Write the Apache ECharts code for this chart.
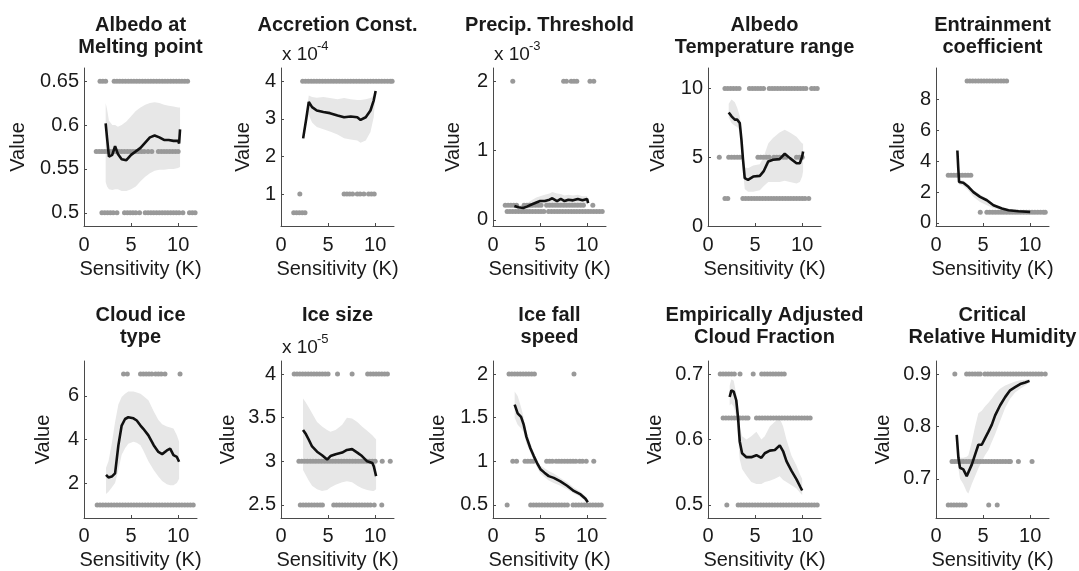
<!DOCTYPE html>
<html><head><meta charset="utf-8">
<script src="https://cdn.jsdelivr.net/npm/echarts@6/dist/echarts.min.js"></script>
<style>html,body{margin:0;padding:0;background:#fff;}#c{width:1079px;height:571px;}</style>
</head><body><div id="c"></div>
<script>
// ---------------- DATA ----------------
const titles = ['Albedo at\nMelting point', 'Accretion Const.', 'Precip. Threshold', 'Albedo\nTemperature range', 'Entrainment\ncoefficient',
  'Cloud ice\ntype', 'Ice size', 'Ice fall\nspeed', 'Empirically Adjusted\nCloud Fraction', 'Critical\nRelative Humidity'];
const exponents = [null, '-4', '-3', null, null, null, '-5', null, null, null];
const xTicks = [0, 5, 10];
const yTicks = [[0.5, 0.55, 0.6, 0.65], [1, 2, 3, 4], [0, 1, 2], [0, 5, 10], [0, 2, 4, 6, 8],
  [2, 4, 6], [2.5, 3, 3.5, 4], [0.5, 1, 1.5, 2], [0.5, 0.6, 0.7], [0.7, 0.8, 0.9]];
const yLimits = [[0.485, 0.665], [0.15, 4.35], [-0.09, 2.19], [0, 11.5], [-0.2, 10.05],
  [0.4, 7.6], [2.35, 4.15], [0.35, 2.15], [0.48, 0.72], [0.625, 0.925]];

// Panel 1: Albedo at melting point
const p1X = [2.3, 2.45, 2.65, 3.0, 3.3, 3.6, 4.0, 4.5, 5.0, 5.5, 6.0, 6.5, 7.0, 7.5, 8.0, 8.5, 9.0, 9.5, 10.0, 10.1, 10.2];
const p1Mean = [0.602, 0.585, 0.564, 0.566, 0.576, 0.567, 0.561, 0.560, 0.566, 0.570, 0.574, 0.580, 0.586, 0.588, 0.586, 0.583, 0.583, 0.582, 0.582, 0.579, 0.595];
const p1Hi = [0.625, 0.618, 0.605, 0.600, 0.600, 0.598, 0.600, 0.604, 0.610, 0.616, 0.620, 0.623, 0.625, 0.626, 0.625, 0.623, 0.622, 0.621, 0.620, 0.620, 0.620];
const p1Lo = [0.535, 0.530, 0.527, 0.526, 0.527, 0.527, 0.525, 0.525, 0.527, 0.530, 0.536, 0.541, 0.545, 0.548, 0.549, 0.549, 0.550, 0.550, 0.551, 0.552, 0.552];
const p1Lvl = [0.65, 0.57, 0.5];
const p1DotX = [
  [1.7,2.0,2.3,3.2,3.5,3.8,4.1,4.4,4.7,5.0,5.3,5.6,5.9,6.2,6.5,6.8,7.1,7.4,7.7,8.0,8.3,8.6,8.9,9.2,9.5,9.8,10.1,10.4,10.7,11.0],
  [1.3,1.6,1.9,2.2,2.5,2.8,3.1,3.4,3.7,4.0,4.3,4.6,4.9,5.2,5.5,5.8,6.1,6.4,6.8,7.2,7.9,8.2,8.5,8.8,9.1,9.4,9.7,10.0],
  [1.9,2.2,2.5,2.8,3.1,3.5,4.3,4.6,4.9,5.2,5.5,5.9,6.5,6.8,7.1,7.4,7.7,8.0,8.3,8.6,8.9,9.2,9.5,9.8,10.1,10.5,11.2,11.5,11.8]];

// Panel 2: Accretion const (x 1e-4)
const p2X = [2.35, 2.65, 2.95, 3.3, 3.8, 4.5, 5.2, 6.0, 6.7, 7.4, 8.1, 8.45, 9.0, 9.5, 9.85, 10.05];
const p2Mean = [2.48, 2.95, 3.45, 3.31, 3.22, 3.18, 3.15, 3.09, 3.04, 3.06, 3.04, 2.97, 3.04, 3.22, 3.49, 3.74];
const p2Hi = [2.55, 3.1, 3.62, 3.58, 3.56, 3.58, 3.55, 3.52, 3.55, 3.52, 3.5, 3.5, 3.52, 3.55, 3.62, 3.78];
const p2Lo = [2.42, 2.8, 3.1, 2.9, 2.78, 2.72, 2.66, 2.58, 2.48, 2.45, 2.42, 2.36, 2.42, 2.65, 3.05, 3.7];
const p2Lvl = [4, 1, 0.5];
const p2DotX = [
  [2.3,2.6,2.9,3.2,3.5,3.8,4.1,4.4,4.7,5.0,5.3,5.6,5.9,6.2,6.5,6.8,7.1,7.4,7.7,8.0,8.3,8.6,8.9,9.2,9.5,9.8,10.1,10.4,10.7,11.0,11.3,11.6,11.8],
  [2.0,6.7,7.0,7.3,7.6,8.1,8.4,8.8,9.3,9.6,9.9],
  [1.35,1.65,1.95,2.25,2.55]];

// Panel 3: Precip threshold (x 1e-3)
const p3X = [2.27, 2.7, 3.2, 3.6, 4.1, 4.6, 5.0, 5.5, 6.0, 6.3, 6.8, 7.2, 7.6, 8.0, 8.5, 9.0, 9.5, 10.0, 10.1];
const p3Mean = [0.20, 0.18, 0.17, 0.19, 0.22, 0.25, 0.27, 0.27, 0.29, 0.31, 0.27, 0.30, 0.27, 0.29, 0.28, 0.30, 0.28, 0.30, 0.24];
const p3Hi = [0.23, 0.22, 0.21, 0.24, 0.28, 0.32, 0.34, 0.36, 0.38, 0.40, 0.38, 0.37, 0.35, 0.36, 0.35, 0.36, 0.34, 0.34, 0.30];
const p3Lo = [0.17, 0.15, 0.14, 0.15, 0.17, 0.19, 0.21, 0.21, 0.22, 0.23, 0.21, 0.23, 0.21, 0.22, 0.22, 0.23, 0.22, 0.24, 0.20];
const p3Lvl = [2, 0.21, 0.12];
const p3DotX = [
  [2.1,7.5,7.8,8.3,8.6,8.9,10.3,10.7],
  [1.3,1.6,1.9,2.2,2.5,3.3,3.6,3.9,4.2,4.5,4.8,5.1,5.7,6.0,6.3,6.6,6.9,7.2,7.5,7.8,8.1,8.4,8.7,9.0,9.3,9.6,10.6],
  [1.5,1.8,2.1,2.4,2.7,3.0,3.3,3.6,3.9,4.2,4.5,4.8,5.1,5.4,5.9,6.2,6.5,6.8,7.1,7.4,7.7,8.0,8.3,8.6,8.9,9.2,9.5,9.8,10.1,10.4,10.7,11.0,11.3,11.6]];

// Panel 4: Albedo temperature range
const p4X = [2.2, 2.5, 2.85, 3.1, 3.37, 3.55, 3.72, 3.9, 4.25, 4.8, 5.5, 5.9, 6.4, 6.9, 7.6, 8.15, 8.7, 9.4, 9.75, 10.0, 10.1];
const p4Mean = [8.27, 7.98, 7.74, 7.74, 7.5, 6.28, 4.82, 3.48, 3.36, 3.6, 3.65, 3.97, 4.7, 4.82, 4.87, 5.26, 4.94, 4.57, 4.57, 5.06, 5.43];
const p4Hi = [8.9, 9.2, 9.0, 8.6, 8.0, 7.0, 5.6, 4.3, 4.2, 4.4, 4.5, 5.0, 6.0, 6.4, 6.8, 7.0, 6.8, 6.5, 6.2, 6.0, 6.0];
const p4Lo = [7.9, 7.5, 7.3, 7.2, 6.9, 5.6, 4.0, 2.7, 2.5, 2.5, 2.6, 2.9, 3.2, 3.2, 3.2, 3.3, 3.2, 3.1, 3.2, 3.6, 4.0];
const p4Lvl = [10, 5, 2];
const p4DotX = [
  [1.8,2.1,2.4,2.7,3.0,3.3,4.4,4.7,5.0,5.3,5.6,5.9,6.5,6.8,7.1,7.4,7.7,8.0,8.3,8.6,8.9,9.2,9.5,9.8,10.1,10.4,11.0,11.3,11.6],
  [1.2,2.2,2.5,2.8,3.1,3.4,5.3,5.6,5.9,6.2,6.5,7.0,7.3,7.6,8.0,8.3,9.4,9.7,10.0],
  [1.8,2.1,3.7,4.0,4.3,4.6,4.9,5.2,5.5,5.8,6.1,6.4,6.7,7.0,7.3,7.6,7.9,8.2,8.5,8.8,9.1,9.4,9.7,10.0,10.3,10.7]];

// Panel 5: Entrainment coefficient
const p5X = [2.27, 2.36, 2.45, 2.9, 3.44, 3.97, 4.68, 5.4, 6.1, 7.0, 7.7, 8.76, 10.0];
const p5Mean = [4.7, 3.6, 2.66, 2.6, 2.34, 2.0, 1.69, 1.47, 1.15, 0.93, 0.82, 0.76, 0.71];
const p5Hi = [4.8, 3.7, 2.8, 2.75, 2.5, 2.15, 1.85, 1.6, 1.25, 1.0, 0.88, 0.8, 0.75];
const p5Lo = [4.6, 3.5, 2.5, 2.4, 2.1, 1.7, 1.35, 1.15, 0.95, 0.82, 0.74, 0.7, 0.67];
const p5Lvl = [9.2, 3.1, 0.7];
const p5DotX = [
  [3.3,3.6,3.9,4.2,4.5,4.8,5.1,5.4,5.7,6.0,6.3,6.6,6.9,7.2,7.5],
  [1.3,1.6,1.9,2.2,2.5,2.8,3.1,3.4,3.7],
  [4.7,5.4,5.7,6.0,6.3,6.6,6.9,7.2,7.5,7.8,8.1,8.4,8.7,9.0,9.3,9.6,9.9,10.2,10.5,10.8,11.1,11.4,11.6]];

// Panel 6: Cloud ice type
const p6X = [2.34, 2.6, 2.95, 3.3, 3.65, 4.0, 4.36, 4.7, 5.25, 5.6, 6.0, 6.3, 6.84, 7.4, 7.9, 8.3, 8.8, 9.15, 9.5, 9.86, 10.1];
const p6Mean = [2.38, 2.26, 2.3, 2.45, 3.73, 4.64, 4.94, 5.02, 4.97, 4.87, 4.64, 4.49, 4.19, 3.74, 3.43, 3.33, 3.5, 3.58, 3.28, 3.2, 2.98];
const p6Hi = [2.7, 3.0, 3.8, 4.8, 5.6, 5.95, 6.1, 6.2, 6.2, 6.15, 6.1, 6.0, 5.8, 5.3, 4.9, 4.7, 4.6, 4.55, 4.5, 4.2, 3.9];
const p6Lo = [1.5, 1.6, 1.8, 2.0, 2.6, 3.3, 3.6, 3.8, 3.9, 3.85, 3.74, 3.5, 3.0, 2.6, 2.3, 2.1, 1.95, 1.9, 1.9, 2.0, 2.2];
const p6Lvl = [7, 1];
const p6DotX = [
  [4.2,4.6,6.0,6.3,6.6,6.9,7.2,7.6,7.9,8.2,8.6,10.2],
  [1.4,1.7,2.0,2.3,2.6,2.9,3.2,3.5,3.8,4.1,4.4,4.7,5.0,5.3,5.6,5.9,6.2,6.5,6.8,7.1,7.4,7.7,8.0,8.3,8.6,8.9,9.2,9.5,9.8,10.1,10.4,10.7,11.0,11.3,11.6]];

// Panel 7: Ice size (x 1e-5)
const p7X = [2.34, 2.6, 2.94, 3.3, 3.83, 4.36, 4.9, 5.25, 5.8, 6.5, 7.0, 7.55, 8.1, 8.6, 9.15, 9.7, 9.86, 10.1];
const p7Mean = [3.36, 3.32, 3.25, 3.17, 3.11, 3.07, 3.02, 3.06, 3.08, 3.1, 3.13, 3.14, 3.1, 3.06, 3.0, 2.98, 2.94, 2.83];
const p7Hi = [3.72, 3.68, 3.62, 3.55, 3.45, 3.4, 3.36, 3.34, 3.36, 3.42, 3.5, 3.49, 3.45, 3.4, 3.35, 3.3, 3.28, 3.25];
const p7Lo = [2.9, 2.85, 2.78, 2.72, 2.68, 2.66, 2.67, 2.7, 2.73, 2.76, 2.77, 2.76, 2.72, 2.69, 2.67, 2.66, 2.66, 2.68];
const p7Lvl = [4, 3, 2.5];
const p7DotX = [
  [1.4,1.7,2.0,2.3,2.6,2.9,3.2,3.5,3.8,4.1,4.4,4.7,5.0,6.0,7.55,9.2,9.5,9.8,10.1,10.4,10.7,11.0,11.3],
  [1.9,2.2,2.5,2.8,3.1,3.4,3.7,4.0,4.3,4.6,4.9,5.2,5.5,5.8,6.1,6.4,6.7,7.0,7.3,7.6,7.9,8.2,8.5,8.8,9.1,9.4,9.7,10.0,10.75,11.6],
  [2.05,2.35,2.65,2.95,3.25,3.55,3.85,4.15,4.4,5.6,5.9,6.2,6.5,6.8,7.1,7.4,7.7,8.0,8.3,8.6,8.9,9.2,9.5,9.9,10.7]];

// Panel 8: Ice fall speed
const p8X = [2.3, 2.62, 2.98, 3.26, 3.55, 3.97, 4.33, 4.68, 5.04, 5.46, 5.92, 6.45, 7.16, 7.87, 8.58, 9.3, 9.82, 10.07];
const p8Mean = [1.65, 1.55, 1.51, 1.42, 1.28, 1.15, 1.06, 0.98, 0.91, 0.87, 0.83, 0.81, 0.77, 0.72, 0.66, 0.62, 0.57, 0.53];
const p8Hi = [1.8, 1.75, 1.62, 1.5, 1.35, 1.2, 1.1, 1.02, 0.95, 0.92, 0.89, 0.86, 0.81, 0.76, 0.7, 0.65, 0.6, 0.56];
const p8Lo = [1.5, 1.42, 1.38, 1.33, 1.2, 1.1, 1.01, 0.93, 0.86, 0.82, 0.78, 0.75, 0.72, 0.68, 0.63, 0.59, 0.54, 0.51];
const p8Lvl = [2, 1, 0.5];
const p8DotX = [
  [1.7,2.0,2.3,2.6,2.9,3.2,3.5,3.8,4.1,4.4,8.6],
  [2.1,2.5,3.4,3.7,4.0,4.3,5.7,6.0,6.3,6.7,7.0,7.3,7.6,7.9,8.2,8.5,8.8,9.2,9.5,9.9,10.7],
  [1.5,4.0,4.3,4.6,4.9,5.2,5.5,5.8,6.1,6.4,6.7,7.0,7.3,7.6,7.9,8.5,8.8,9.1,9.4,9.7,10.0,10.3,10.6,10.9,11.2,11.5]];

// Panel 9: Empirically adjusted cloud fraction
const p9X = [2.3, 2.48, 2.73, 3.0, 3.2, 3.37, 3.62, 4.08, 4.6, 5.14, 5.67, 6.03, 6.56, 7.1, 7.62, 7.98, 8.33, 8.87, 9.4, 9.82, 10.0];
const p9Mean = [0.665, 0.675, 0.673, 0.66, 0.632, 0.597, 0.579, 0.573, 0.573, 0.576, 0.572, 0.579, 0.583, 0.584, 0.591, 0.582, 0.567, 0.552, 0.539, 0.527, 0.522];
const p9Hi = [0.682, 0.692, 0.690, 0.670, 0.650, 0.620, 0.605, 0.600, 0.605, 0.612, 0.600, 0.605, 0.620, 0.627, 0.632, 0.620, 0.600, 0.575, 0.560, 0.545, 0.540];
const p9Lo = [0.652, 0.655, 0.650, 0.635, 0.600, 0.570, 0.555, 0.545, 0.535, 0.532, 0.532, 0.535, 0.537, 0.540, 0.544, 0.538, 0.535, 0.530, 0.525, 0.518, 0.515];
const p9Lvl = [0.7, 0.633, 0.5];
const p9DotX = [
  [1.3,1.6,1.9,2.2,2.5,2.8,3.4,4.8,5.7,6.0,6.3,6.6,6.9,7.2,7.5,7.8,8.1],
  [1.6,1.9,2.2,2.5,2.8,3.1,3.4,3.7,4.0,4.25,5.15,5.45,5.75,6.05,6.35,6.65,6.95,7.25,7.55,7.85,8.15,8.45,8.75,9.05,9.35,9.65,9.95,10.25,10.55,10.85],
  [2.0,3.2,3.5,3.8,4.1,4.4,4.7,5.0,5.3,5.6,5.9,6.2,6.5,6.8,7.1,7.4,7.7,8.0,8.3,8.6,8.9,9.2,9.5,9.8,10.1,10.4,10.7,11.0,11.3,11.6]];

// Panel 10: Critical relative humidity
const p10X = [2.2, 2.38, 2.55, 2.9, 3.26, 3.44, 3.8, 4.15, 4.5, 4.86, 5.2, 5.57, 5.92, 6.28, 6.8, 7.34, 7.87, 8.4, 8.94, 9.47, 9.93];
const p10Mean = [0.784, 0.74, 0.721, 0.718, 0.705, 0.702, 0.727, 0.746, 0.765, 0.765, 0.777, 0.79, 0.803, 0.821, 0.84, 0.856, 0.869, 0.875, 0.881, 0.884, 0.887];
const p10Hi = [0.787, 0.75, 0.74, 0.74, 0.742, 0.745, 0.77, 0.80, 0.825, 0.83, 0.838, 0.845, 0.853, 0.862, 0.872, 0.878, 0.882, 0.886, 0.888, 0.889, 0.89];
const p10Lo = [0.78, 0.72, 0.70, 0.69, 0.675, 0.672, 0.69, 0.705, 0.72, 0.733, 0.745, 0.755, 0.77, 0.785, 0.81, 0.835, 0.853, 0.865, 0.872, 0.878, 0.884];
const p10Lvl = [0.9, 0.733, 0.65];
const p10DotX = [
  [2.0,3.25,3.55,3.85,4.15,4.45,4.7,5.2,5.5,5.8,6.1,6.4,6.7,7.0,7.3,7.6,7.9,8.2,8.5,8.8,9.1,9.4,9.7,10.0,10.3,10.6,10.9,11.2,11.6],
  [1.7,2.0,2.3,2.6,2.9,3.2,3.5,3.8,4.1,4.4,4.7,5.0,5.3,5.6,5.9,6.2,6.5,6.8,7.1,7.4,7.7,7.9,8.75,10.2],
  [1.3,1.6,1.9,2.2,2.5,2.8,3.1,5.6,6.5]];

// ---------------- LAYOUT / STYLE ----------------
const FONT = '"Liberation Sans", Arial, Helvetica, sans-serif';
const TXT = '#1a1a1a';
const AX = '#4a4a4a';
const colLeft = [84, 281, 493, 708, 936];
const rowTop = [68, 361];
const rowH = [158, 157];
const gridW = 113;
const yNameGap = [56, 28, 30, 40, 28, 31, 43, 45, 43, 43];
const xLabelMargin = [9, 8];
const xNameGap = [33, 32];

const lines = [[p1X,p1Mean,p1Lo,p1Hi],[p2X,p2Mean,p2Lo,p2Hi],[p3X,p3Mean,p3Lo,p3Hi],[p4X,p4Mean,p4Lo,p4Hi],[p5X,p5Mean,p5Lo,p5Hi],
  [p6X,p6Mean,p6Lo,p6Hi],[p7X,p7Mean,p7Lo,p7Hi],[p8X,p8Mean,p8Lo,p8Hi],[p9X,p9Mean,p9Lo,p9Hi],[p10X,p10Mean,p10Lo,p10Hi]];
const dots = [[p1Lvl,p1DotX],[p2Lvl,p2DotX],[p3Lvl,p3DotX],[p4Lvl,p4DotX],[p5Lvl,p5DotX],
  [p6Lvl,p6DotX],[p7Lvl,p7DotX],[p8Lvl,p8DotX],[p9Lvl,p9DotX],[p10Lvl,p10DotX]];

const grids = [], xAxes = [], yAxes = [], series = [], graphics = [];
for (let i = 0; i < 10; i++) {
  const r = Math.floor(i / 5), c = i % 5;
  const left = colLeft[c], top = rowTop[r], h = rowH[r];
  grids.push({left: left, top: top, width: gridW, height: h, containLabel: false});
  xAxes.push({
    gridIndex: i, type: 'value', min: 0, max: 12,
    axisLine: {show: true, onZero: false, lineStyle: {color: AX, width: 1}},
    axisTick: {show: true, inside: true, length: 3, lineStyle: {color: AX}, customValues: xTicks},
    axisLabel: {customValues: xTicks, fontSize: 20, color: TXT, fontFamily: FONT, margin: xLabelMargin[r]},
    splitLine: {show: false},
    name: 'Sensitivity (K)', nameLocation: 'middle', nameGap: xNameGap[r],
    nameTextStyle: {fontSize: 20, color: TXT, fontFamily: FONT}
  });
  yAxes.push({
    gridIndex: i, type: 'value', min: yLimits[i][0], max: yLimits[i][1],
    axisLine: {show: true, onZero: false, lineStyle: {color: AX, width: 1}},
    axisTick: {show: true, inside: true, length: 3, lineStyle: {color: AX}, customValues: yTicks[i]},
    axisLabel: {customValues: yTicks[i], fontSize: 20, color: TXT, fontFamily: FONT, margin: 5},
    splitLine: {show: false},
    name: 'Value', nameLocation: 'middle', nameGap: yNameGap[i],
    nameTextStyle: {fontSize: 20, color: TXT, fontFamily: FONT}
  });
  const [lx, lm, llo, lhi] = lines[i];
  series.push({
    type: 'custom', xAxisIndex: i, yAxisIndex: i, z: 1, silent: true, clip: true,
    data: [[lx[0], lm[0]]],
    renderItem: function (params, api) {
      const pts = [];
      for (let k = 0; k < lx.length; k++) pts.push(api.coord([lx[k], lhi[k]]));
      for (let k = lx.length - 1; k >= 0; k--) pts.push(api.coord([lx[k], llo[k]]));
      return {type: 'polygon', shape: {points: pts}, style: {fill: '#e7e7e7', stroke: null}};
    }
  });
  const [lv, dx] = dots[i];
  const pts = [];
  lv.forEach((v, j) => dx[j].forEach(x => pts.push([x, v])));
  series.push({
    type: 'scatter', xAxisIndex: i, yAxisIndex: i, z: 2, silent: true,
    symbol: 'circle', symbolSize: 5, itemStyle: {color: '#999999', opacity: 1},
    data: pts
  });
  series.push({
    type: 'line', xAxisIndex: i, yAxisIndex: i, z: 3, silent: true,
    showSymbol: false, symbol: 'none',
    lineStyle: {color: '#111', width: 2.6}, data: lx.map((x, k) => [x, lm[k]])
  });
  graphics.push({
    type: 'text', x: left + gridW / 2, y: (r === 0 ? 14 : 304), silent: true,
    style: {text: titles[i], fontSize: 20, fontWeight: 'bold', fontFamily: FONT, fill: TXT,
      align: 'center', verticalAlign: 'top', lineHeight: 22}
  });
  if (exponents[i]) {
    const ey = top - 13;
    graphics.push({type: 'text', x: left + 1, y: ey, silent: true,
      style: {text: 'x 10', fontSize: 19, fontFamily: FONT, fill: TXT, align: 'left', verticalAlign: 'middle'}});
    graphics.push({type: 'text', x: left + 36, y: ey - 9, silent: true,
      style: {text: exponents[i], fontSize: 13, fontFamily: FONT, fill: TXT, align: 'left', verticalAlign: 'middle'}});
  }
}

const chart = echarts.init(document.getElementById('c'), null, {renderer: 'canvas'});
chart.setOption({
  animation: false,
  backgroundColor: '#fff',
  grid: grids, xAxis: xAxes, yAxis: yAxes, series: series, graphic: graphics
});
</script>
</body></html>
